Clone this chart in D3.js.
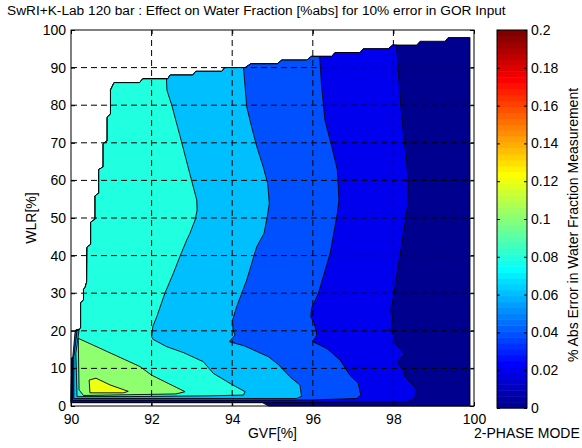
<!DOCTYPE html>
<html>
<head>
<meta charset="utf-8">
<script src="https://cdn.jsdelivr.net/npm/d3@7"></script>
<style>
body { margin: 0; background: #fff; }
svg text { font-family: "Liberation Sans", Arial, Helvetica, sans-serif; fill: #000; }
</style>
</head>
<body>
<div id="chart"></div>
<script>
// ---- data (GVF %, WLR %) ----
const xTicks = [90, 92, 94, 96, 98, 100];
const yTicks = [0, 10, 20, 30, 40, 50, 60, 70, 80, 90, 100];
const xGrid = [92, 94, 96, 98];
const yGrid = [10, 20, 30, 40, 50, 60, 70, 80, 90];
const cbTicks = [0, 0.02, 0.04, 0.06, 0.08, 0.1, 0.12, 0.14, 0.16, 0.18, 0.2];

// upper staircase edge of the data: WLR level and its GVF span
const stepWLR  = [86, 87, 88, 89, 90, 91, 92, 93, 94, 95, 96, 97, 98];
const stepFrom = [91.07, 91.78, 92.46, 93.10, 93.82, 94.46, 95.23, 95.97, 96.55, 97.25, 97.98, 98.66, 99.36];
const stepTo   = [91.70, 92.40, 93.02, 93.74, 94.32, 95.12, 95.85, 96.47, 97.17, 97.87, 98.58, 99.28, 99.90];

// left edge of data, top to bottom
const leftEdge = [[91.07, 86], [90.98, 84], [90.98, 77.6], [90.90, 76.8], [90.90, 70.5], [90.80, 69.8],
  [90.80, 63.6], [90.69, 62.9], [90.69, 56.6], [90.60, 55.9], [90.60, 49.7], [90.49, 48.9],
  [90.49, 43.0], [90.40, 42.2], [90.39, 33], [90.35, 31.5], [90.31, 31], [90.31, 28.2],
  [90.24, 27.4], [90.24, 20.5], [90.12, 20.2], [90.09, 13.1], [90.02, 12.8], [90.0, 0.9]];

// bottom edge of data, right to left
const bottomEdge = [[99.9, 98], [99.9, 0], [94.9, 0], [94.75, 0.9], [90.0, 0.9]];

// contour lines, from the top edge down, along the bottom and up the left side
const c002 = [[98.08, 96.0], [98.12, 89.4], [98.18, 80.5], [98.25, 72.5], [98.33, 65.4], [98.37, 58.3],
  [98.35, 53.0], [98.29, 48.6], [98.2, 42.4], [98.08, 34.4], [97.99, 28.2], [97.93, 25.5],
  [97.98, 23.8], [97.95, 21.1], [97.87, 20.2], [98.06, 18.9], [97.99, 17.6], [98.12, 15.8],
  [98.29, 13.6], [98.16, 12.7], [98.08, 11.8], [98.25, 9.6], [98.29, 7.8], [98.45, 6.0],
  [98.56, 4.7], [98.54, 2.0], [98.33, 1.1], [96.5, 1.0], [94.86, 0.9], [90.0, 0.9],
  [90.02, 12.8], [90.09, 13.1], [90.12, 20.2]];
const c004 = [[96.17, 92.9], [96.22, 84.9], [96.3, 76.1], [96.47, 69.0], [96.61, 62.8], [96.65, 54.8],
  [96.61, 51.3], [96.55, 47.7], [96.43, 40.6], [96.26, 34.4], [96.14, 30.0], [95.97, 26.0],
  [95.95, 23.8], [96.03, 22.0], [96.08, 20.2], [96.1, 18.9], [96.0, 17.1], [96.35, 15.3],
  [96.68, 12.2], [96.92, 8.2], [97.13, 6.0], [97.19, 2.9], [97.09, 2.0], [96.0, 1.6],
  [94.0, 1.5], [90.04, 1.5], [90.04, 12.5], [90.1, 19.5], [90.12, 20.2]];
const c006 = [[94.28, 90], [94.32, 84.9], [94.36, 79.6], [94.48, 74.3], [94.61, 69.0], [94.77, 63.6],
  [94.88, 59.2], [94.92, 53.9], [94.87, 50.3], [94.79, 45.9], [94.61, 42.4], [94.36, 33.5],
  [94.11, 26.4], [94.01, 22.9], [94.02, 20.2], [94.07, 18.9], [93.93, 17.1], [94.3, 16.0],
  [94.9, 13.1], [95.15, 11.0], [95.43, 7.8], [95.68, 5.6], [95.72, 2.6], [95.6, 2.0],
  [93.0, 2.0], [90.07, 2.0], [90.07, 13], [90.15, 20.0], [90.24, 20.5]];
const c008 = [[92.37, 87], [92.38, 84], [92.5, 80.0], [92.62, 75.2], [92.75, 70.0], [92.87, 65.0],
  [92.99, 60.1], [93.12, 54.8], [93.13, 52.1], [93.08, 49.5], [92.95, 45.9], [92.87, 44.1],
  [92.70, 39.7], [92.54, 35.3], [92.33, 30.0], [92.13, 23.8], [92.03, 21.1], [92.0, 18.4],
  [92.04, 17.7], [92.37, 15.8], [92.79, 14.2], [93.28, 11.8], [93.53, 8.7], [93.95, 6.0],
  [94.32, 3.8], [94.28, 2.9], [93.37, 2.7], [91.46, 2.5], [90.15, 2.5], [90.12, 14],
  [90.2, 20.2], [90.24, 20.8]];
// closed islands
const c010 = [[90.18, 18.0], [91.71, 10.5], [92.0, 8.2], [92.83, 3.8], [92.6, 3.2], [90.31, 2.8], [90.2, 4.3]];
const c012 = [[90.45, 6.9], [90.62, 7.4], [90.97, 5.6], [91.42, 3.9], [91.3, 3.5], [90.47, 3.5]];

// MATLAB jet(64), 1-based index
const jet = (i) => {
	const n = 16;
	const u = (k) => (k >= 1 && k <= 16) ? k / n : (k >= 17 && k <= 31) ? 1 : (k >= 32 && k <= 47) ? (48 - k) / n : 0;
	const r = u(i - 24), g = u(i - 8), b = u(i + 8);
	return d3.rgb(r * 255, g * 255, b * 255).formatHex();
}
const levelColor = (v) => jet(Math.min(64, Math.floor(v / 0.2 * 64 + 1e-9) + 1));

const makeContainer = (params) => {
	return d3.select(params.selector)
		.append("svg")
		.attr("width", params.width)
		.attr("height", params.height);
}

const makeScales = (params) => {
	const xScale = d3.scaleLinear().domain([90, 100]).range([params.left, params.right]);
	const yScale = d3.scaleLinear().domain([0, 100]).range([params.bottom, params.top]);
	const cScale = d3.scaleLinear().domain([0, 0.2]).range([params.cbBottom, params.cbTop]);
	return [xScale, yScale, cScale];
}

const drawContours = (container, xScale, yScale) => {
	const line = d3.line().x(d => xScale(d[0])).y(d => yScale(d[1]));
	const topEdge = stepWLR.flatMap((w, i) => [[stepFrom[i], w], [stepTo[i], w]]);
	const region = (c) => topEdge.filter(p => p[0] < c[0][0])
		.concat(c)
		.concat(leftEdge.filter(p => p[1] > c[c.length - 1][1]).reverse());
	const domain = topEdge.concat(bottomEdge, leftEdge.slice().reverse());

	const shapes = [
		{ level: 0, pts: domain },
		{ level: 0.02, pts: region(c002) },
		{ level: 0.04, pts: region(c004) },
		{ level: 0.06, pts: region(c006) },
		{ level: 0.08, pts: region(c008) },
		{ level: 0.1, pts: c010 },
		{ level: 0.12, pts: c012 }
	];

	container.append("g")
		.selectAll("path")
		.data(shapes)
		.join("path")
		.attr("d", d => line(d.pts) + "Z")
		.attr("fill", d => levelColor(d.level))
		.attr("stroke", "#000")
		.attr("stroke-width", 0.9)
		.attr("stroke-linejoin", "round");
}

const addAxes = (container, xScale, yScale, params) => {
	const grid = container.append("g")
		.attr("stroke", "#000")
		.attr("stroke-width", 1)
		.attr("stroke-dasharray", "6,4");
	grid.selectAll(".gx").data(xGrid).join("line")
		.attr("x1", d => xScale(d)).attr("x2", d => xScale(d))
		.attr("y1", params.top).attr("y2", params.bottom);
	grid.selectAll(".gy").data(yGrid).join("line")
		.attr("y1", d => yScale(d)).attr("y2", d => yScale(d))
		.attr("x1", params.left).attr("x2", params.right);

	const style = g => {
		g.select(".domain").remove();
		g.selectAll("text").attr("font-size", 14).attr("fill", "#000");
		g.selectAll("line").attr("stroke", "#000");
	}
	container.append("g")
		.attr("transform", `translate(0, ${params.bottom})`)
		.call(d3.axisBottom(xScale).tickValues(xTicks).tickSizeInner(-4).tickSizeOuter(0).tickPadding(8))
		.call(style);
	container.append("g")
		.attr("transform", `translate(0, ${params.top})`)
		.call(d3.axisTop(xScale).tickValues(xTicks).tickSizeInner(-4).tickSizeOuter(0).tickFormat(""))
		.call(style);
	container.append("g")
		.attr("transform", `translate(${params.left}, 0)`)
		.call(d3.axisLeft(yScale).tickValues(yTicks).tickSizeInner(-4).tickSizeOuter(0).tickPadding(5))
		.call(style);
	container.append("g")
		.attr("transform", `translate(${params.right}, 0)`)
		.call(d3.axisRight(yScale).tickValues(yTicks).tickSizeInner(-4).tickSizeOuter(0).tickFormat(""))
		.call(style);

	container.append("rect")
		.attr("x", params.left).attr("y", params.top)
		.attr("width", params.right - params.left).attr("height", params.bottom - params.top)
		.attr("fill", "none").attr("stroke", "#000").attr("stroke-width", 1);

	container.append("text")
		.attr("x", 7).attr("y", 15)
		.attr("font-size", 13.7)
		.text("SwRI+K-Lab 120 bar : Effect on Water Fraction [%abs] for 10% error in GOR Input");

	container.append("text")
		.attr("x", (params.left + params.right) / 2).attr("y", 438)
		.attr("text-anchor", "middle").attr("font-size", 14)
		.text("GVF[%]");

	container.append("text")
		.attr("transform", `translate(36, ${(params.top + params.bottom) / 2}) rotate(-90)`)
		.attr("text-anchor", "middle").attr("font-size", 14)
		.text("WLR[%]");

	container.append("text")
		.attr("x", 474).attr("y", 438)
		.attr("font-size", 14)
		.text("2-PHASE MODE");
}

const addColorbar = (container, cScale, params) => {
	const bands = d3.range(64);
	container.append("g")
		.selectAll("rect")
		.data(bands)
		.join("rect")
		.attr("x", params.cbLeft)
		.attr("y", d => cScale((d + 1) * 0.2 / 64))
		.attr("width", params.cbRight - params.cbLeft)
		.attr("height", d => cScale(d * 0.2 / 64) - cScale((d + 1) * 0.2 / 64) + 0.5)
		.attr("fill", d => jet(d + 1));

	const style = g => {
		g.select(".domain").remove();
		g.selectAll("text").attr("font-size", 14).attr("fill", "#000");
		g.selectAll("line").attr("stroke", "#000");
	}
	container.append("g")
		.attr("transform", `translate(${params.cbRight}, 0)`)
		.call(d3.axisRight(cScale).tickValues(cbTicks).tickSizeInner(-3).tickSizeOuter(0).tickPadding(4)
			.tickFormat(d => d3.format("~g")(d)))
		.call(style);
	container.append("g")
		.attr("transform", `translate(${params.cbLeft}, 0)`)
		.call(d3.axisLeft(cScale).tickValues(cbTicks).tickSizeInner(-3).tickSizeOuter(0).tickFormat(""))
		.call(style);

	container.append("rect")
		.attr("x", params.cbLeft).attr("y", params.cbTop)
		.attr("width", params.cbRight - params.cbLeft).attr("height", params.cbBottom - params.cbTop)
		.attr("fill", "none").attr("stroke", "#000").attr("stroke-width", 1);

	container.append("text")
		.attr("transform", `translate(578, 225) rotate(-90)`)
		.attr("text-anchor", "middle").attr("font-size", 14)
		.text("% Abs Error in Water Fraction Measurement");
}

const main = (params) => {
	const container = makeContainer(params);
	const [xScale, yScale, cScale] = makeScales(params);
	drawContours(container, xScale, yScale);
	addAxes(container, xScale, yScale, params);
	addColorbar(container, cScale, params);
}

main({
	selector: "#chart", width: 582, height: 448,
	left: 71, right: 474, top: 30, bottom: 406,
	cbLeft: 497, cbRight: 527, cbTop: 30, cbBottom: 408
});
</script>
</body>
</html>
